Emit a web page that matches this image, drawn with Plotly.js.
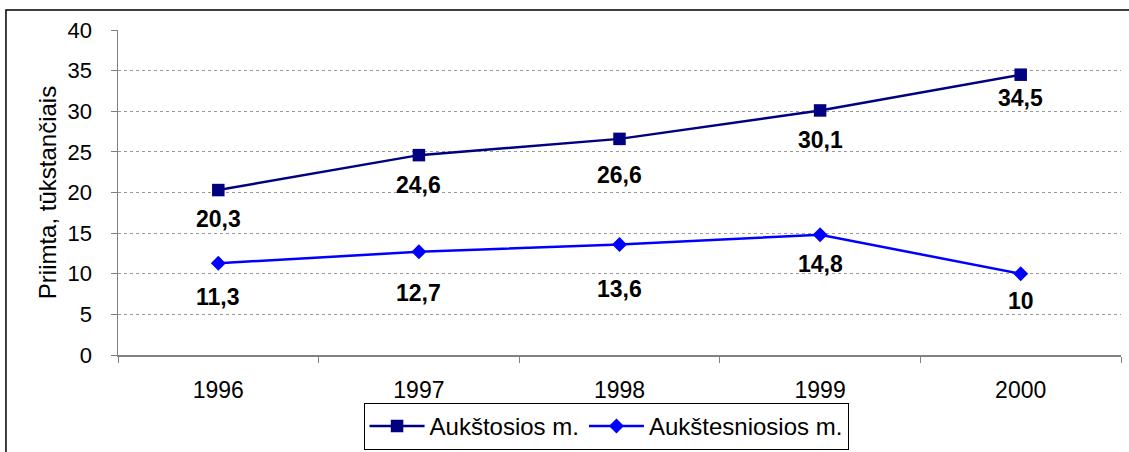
<!DOCTYPE html>
<html>
<head>
<meta charset="utf-8">
<script src="https://cdn.plot.ly/plotly-3.0.1.min.js"></script>
<style>
html,body{margin:0;padding:0;background:#fff;}
#chart{width:1129px;height:452px;}
</style>
</head>
<body>
<div id="chart"></div>
<script>
// ---- data ----
const years = ['1996', '1997', '1998', '1999', '2000'];
const seriesNames = ['Aukštosios m.', 'Aukštesniosios m.'];
const aukstosios = [20.3, 24.6, 26.6, 30.1, 34.5];
const aukstesniosios = [11.3, 12.7, 13.6, 14.8, 10];
const yTicks = [0, 5, 10, 15, 20, 25, 30, 35, 40];
const yTitle = 'Priimta, tūkstančiais';

// ---- styling (label pixel offsets below each point) ----
const shiftA = [29, 30, 36, 30, 23];
const shiftB = [34, 41, 44, 29, 27];
const FONT = 'Liberation Sans, Arial, sans-serif';

const fmt = v => String(v).replace('.', ',');

const traces = [
  {
    x: years, y: aukstosios, name: seriesNames[0], type: 'scatter', mode: 'lines+markers',
    line: {color: '#000080', width: 2.5},
    marker: {symbol: 'square', size: 12.5, color: '#000080', line: {width: 0}}
  },
  {
    x: years, y: aukstesniosios, name: seriesNames[1], type: 'scatter', mode: 'lines+markers',
    line: {color: '#0000FF', width: 2.5},
    marker: {symbol: 'diamond', size: 11.5, color: '#0000FF', line: {width: 0}}
  }
];

const annotations = [];
years.forEach((yr, i) => {
  annotations.push({x: i, y: aukstosios[i], xref: 'x', yref: 'y', text: '<b>' + fmt(aukstosios[i]) + '</b>',
    showarrow: false, yshift: -shiftA[i], font: {family: FONT, size: 23, color: '#000'}});
  annotations.push({x: i, y: aukstesniosios[i], xref: 'x', yref: 'y', text: '<b>' + fmt(aukstesniosios[i]) + '</b>',
    showarrow: false, yshift: -shiftB[i], font: {family: FONT, size: 23, color: '#000'}});
});

const layout = {
  width: 1129, height: 452,
  margin: {l: 118, r: 8, t: 30, b: 97, pad: 0, autoexpand: false},
  paper_bgcolor: '#fff', plot_bgcolor: '#fff',
  font: {family: FONT, size: 21, color: '#000'},
  showlegend: true,
  legend: {
    orientation: 'h', x: 0.4866, xanchor: 'center', y: -0.1477, yanchor: 'top',
    bordercolor: '#000', borderwidth: 1, bgcolor: '#fff',
    font: {family: FONT, size: 24, color: '#000'},
    itemwidth: 55, tracegroupgap: 0
  },
  xaxis: {
    type: 'category', tickson: 'boundaries', ticks: 'outside', ticklen: 6, tickcolor: '#808080',
    showline: true, linecolor: '#808080', linewidth: 1.5, showgrid: false, zeroline: false,
    ticklabelstandoff: 14, tickfont: {family: FONT, size: 23, color: '#000'},
    range: [-0.5, 4.5], fixedrange: true
  },
  yaxis: {
    range: [0, 40], tickvals: yTicks, ticks: 'outside', ticklen: 6, tickcolor: '#808080',
    showline: true, linecolor: '#808080', linewidth: 1.5,
    showgrid: true, gridcolor: '#999', griddash: 'dot', gridwidth: 1, zeroline: false,
    ticklabelstandoff: 14, tickfont: {family: FONT, size: 22, color: '#000'},
    title: {text: yTitle, font: {family: FONT, size: 24, color: '#000'}, standoff: 4},
    automargin: false
  },
  annotations: annotations,
  shapes: [{
    type: 'rect', xref: 'paper', yref: 'paper',
    x0: -0.1117, x1: 1.02, y0: -0.35, y1: 1.0615,
    line: {color: '#000', width: 1.5}, fillcolor: 'rgba(0,0,0,0)', layer: 'above'
  }]
};

Plotly.newPlot('chart', traces, layout, {staticPlot: true, displayModeBar: false});
</script>
</body>
</html>
